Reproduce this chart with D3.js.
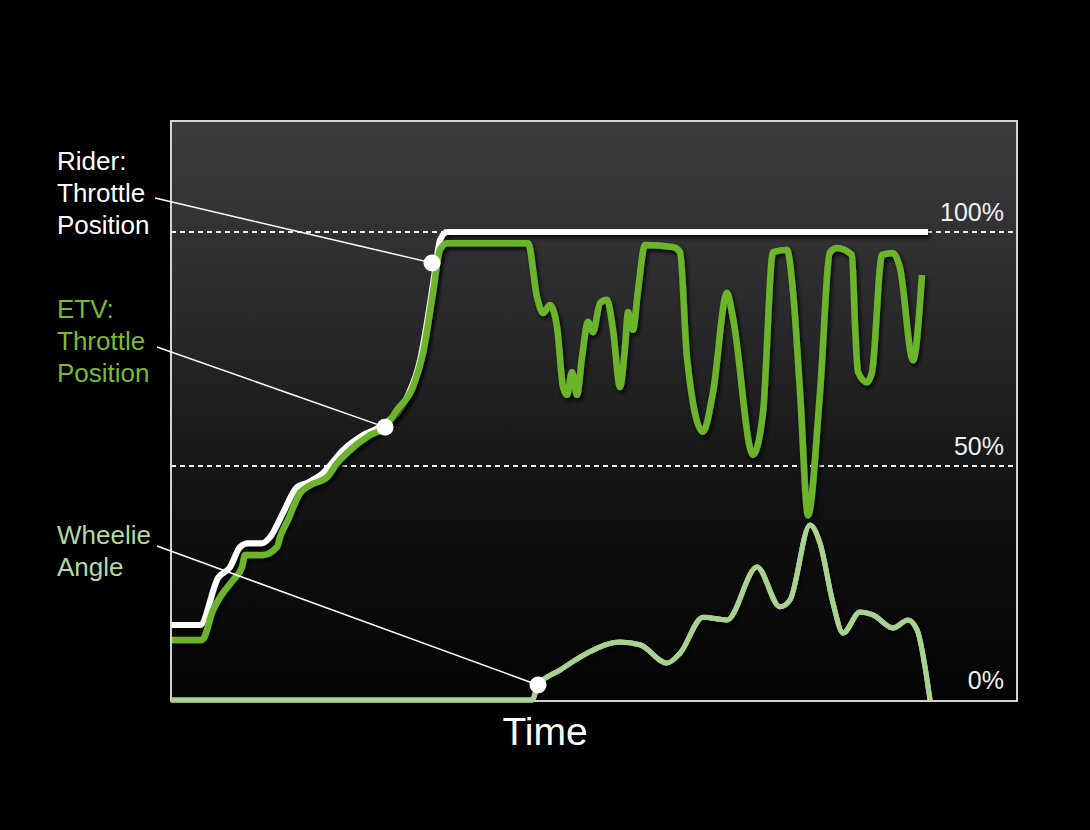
<!DOCTYPE html>
<html>
<head>
<meta charset="utf-8">
<script src="https://cdn.jsdelivr.net/npm/d3@7"></script>
<style>
  html, body { margin: 0; padding: 0; background: #000; }
  svg { display: block; }
  text { font-family: "Liberation Sans", "Helvetica Neue", Arial, sans-serif; font-weight: normal; }
</style>
</head>
<body>
<svg id="chart" width="1090" height="830"></svg>
<script>
// ---- DATA (time in arbitrary units, values in % of full scale) ----
const riderTime  = [0, 29, 47, 59, 69, 77, 91, 99, 112, 126, 136, 152, 172, 192, 212, 236, 249, 259, 264, 269, 276, 757];
const riderValue = [16.0, 16.0, 26.1, 28.4, 32.7, 33.5, 33.5, 34.8, 40.0, 45.5, 46.4, 48.5, 53.4, 56.6, 58.8, 64.7, 72.6, 84.8, 91.9, 98.3, 100, 100];

const etvTime  = [0, 31, 42, 52, 62, 71, 74, 92, 106, 109, 117, 129, 139, 156, 166, 176, 199, 214, 226, 242, 252, 262, 269, 276,
                  357, 366, 372, 379, 386, 392, 396, 401, 406, 411, 417, 422, 429, 436, 442, 449, 454, 457, 462, 467, 474,
                  502, 509, 516, 532, 542, 556, 562, 582, 592, 602, 616, 622, 629, 637, 649, 659, 666, 681, 684, 687, 696,
                  701, 711, 722, 729, 742, 751];
const etvValue = [12.8, 12.8, 19.2, 22.9, 25.6, 28.4, 31.0, 31.0, 32.7, 34.8, 38.5, 44.2, 45.9, 47.6, 50.6, 52.8, 56.6, 58.3, 62.0, 66.9, 74.1, 87.0, 96.2, 97.6,
                  97.6, 86.1, 82.7, 84.4, 79.7, 66.9, 65.2, 70.1, 65.2, 73.3, 80.8, 78.6, 84.8, 85.5, 79.1, 66.9, 75.4, 82.9, 79.1, 87.6, 97.2,
                  96.8, 95.7, 73.1, 57.3, 65.8, 87.0, 81.6, 52.4, 61.5, 95.7, 96.2, 87.2, 65.8, 39.5, 65.8, 95.7, 96.6, 95.1, 80.1, 70.1, 67.9,
                  70.1, 95.1, 95.5, 92.3, 72.6, 90.8];

const wheelieTime  = [0, 361, 367, 389, 416, 449, 469, 496, 509, 532, 556, 586, 609, 619, 639, 649, 662, 672, 689, 702, 722, 737, 746, 759];
const wheelieValue = [0, 0, 3.2, 6.4, 10.0, 12.4, 11.8, 7.9, 10.0, 17.7, 17.1, 28.4, 19.9, 21.4, 37.4, 33.5, 20.7, 14.3, 18.8, 18.2, 15.4, 17.1, 15.0, 0];

const refLevels = [100, 50, 0];
const refLabels = ["100%", "50%", "0%"];

const seriesLabels = [["Rider:", "Throttle", "Position"], ["ETV:", "Throttle", "Position"], ["Wheelie", "Angle"]];
const markerTime  = [261, 214, 367];
const markerValue = [93.4, 58.3, 3.2];
const xTitle = "Time";

// ---- LAYOUT ----
const svg = d3.select("#chart");
const L = 171, R = 1017, T = 121, B = 701;
const x = d3.scaleLinear().domain([0, 846]).range([L, R]);
const y = d3.scaleLinear().domain([0, 100]).range([700, 232]);

const defs = svg.append("defs");
const grad = defs.append("linearGradient").attr("id", "bg").attr("x1", 0).attr("y1", 0).attr("x2", 0).attr("y2", 1);
grad.append("stop").attr("offset", "0%").attr("stop-color", "#3c3c3f");
grad.append("stop").attr("offset", "35%").attr("stop-color", "#29292b");
grad.append("stop").attr("offset", "65%").attr("stop-color", "#121213");
grad.append("stop").attr("offset", "100%").attr("stop-color", "#030303");

const f = defs.append("filter").attr("id", "shadow").attr("x", "-10%").attr("y", "-10%").attr("width", "120%").attr("height", "120%");
f.append("feDropShadow").attr("dx", 2).attr("dy", 3).attr("stdDeviation", 2)
  .attr("flood-color", "#000").attr("flood-opacity", 0.85);

svg.append("rect").attr("width", 1090).attr("height", 830).attr("fill", "#000");
svg.append("rect").attr("x", L).attr("y", T).attr("width", R - L).attr("height", B - T)
  .attr("fill", "url(#bg)");

// reference dashed lines
svg.selectAll("line.ref").data(refLevels.filter(v => v > 0)).join("line")
  .attr("class", "ref")
  .attr("x1", L).attr("x2", R)
  .attr("y1", d => y(d)).attr("y2", d => y(d))
  .attr("stroke", "#f2f2f2").attr("stroke-width", 1.8).attr("stroke-dasharray", "5,4");

svg.selectAll("text.ref").data(refLevels).join("text")
  .attr("class", "ref")
  .attr("x", 1004).attr("y", d => y(d) - 11)
  .attr("text-anchor", "end")
  .attr("fill", "#f0f0f0").attr("font-size", 25)
  .text((d, i) => refLabels[i]);

// series
const line = d3.line().x(d => x(d[0])).y(d => y(d[1])).curve(d3.curveMonotoneX);
const zip = (a, b) => a.map((v, i) => [v, b[i]]);

const series = [
  { data: zip(riderTime, riderValue), color: "#ffffff", width: 6 },
  { data: zip(etvTime, etvValue), color: "#6cb52c", width: 6.5 },
  { data: zip(wheelieTime, wheelieValue), color: "#a9d28f", width: 5 }
];

svg.selectAll("path.series").data(series).join("path")
  .attr("class", "series")
  .attr("d", d => line(d.data))
  .attr("fill", "none")
  .attr("stroke", d => d.color)
  .attr("stroke-width", d => d.width)
  .attr("stroke-linejoin", "round")
  .attr("stroke-linecap", "butt")
  .attr("filter", "url(#shadow)");

// plot border
svg.append("rect").attr("x", L).attr("y", T).attr("width", R - L).attr("height", B - T)
  .attr("fill", "none").attr("stroke", "#e8e8e8").attr("stroke-width", 1.8);

// wheelie drawn over bottom border on left
svg.append("path").attr("d", line(series[2].data)).attr("fill", "none")
  .attr("stroke", series[2].color).attr("stroke-width", series[2].width).attr("stroke-linejoin", "round");

// labels
const labelColors = ["#ffffff", "#7aba30", "#b4d9a0"];
const labelBase = [170, 318, 544];
const lineH = 32;
seriesLabels.forEach((lines, i) => {
  const t = svg.append("text").attr("x", 57).attr("fill", labelColors[i]).attr("font-size", 26);
  lines.forEach((s, j) => {
    t.append("tspan").attr("x", 57).attr("y", labelBase[i] + j * lineH).text(s);
  });
});

// leader lines + markers
const leaderStart = [[155, 198], [157, 347], [157, 546]];
markerTime.forEach((mt, i) => {
  svg.append("line")
    .attr("x1", leaderStart[i][0]).attr("y1", leaderStart[i][1])
    .attr("x2", x(mt)).attr("y2", y(markerValue[i]))
    .attr("stroke", "#ffffff").attr("stroke-width", 1.5);
});
svg.selectAll("circle.marker").data(markerTime).join("circle")
  .attr("class", "marker")
  .attr("cx", d => x(d)).attr("cy", (d, i) => y(markerValue[i]))
  .attr("r", 8.5).attr("fill", "#ffffff");

// x title
svg.append("text").attr("x", 545).attr("y", 745).attr("text-anchor", "middle")
  .attr("fill", "#ffffff").attr("font-size", 39).text(xTitle);
</script>
</body>
</html>
